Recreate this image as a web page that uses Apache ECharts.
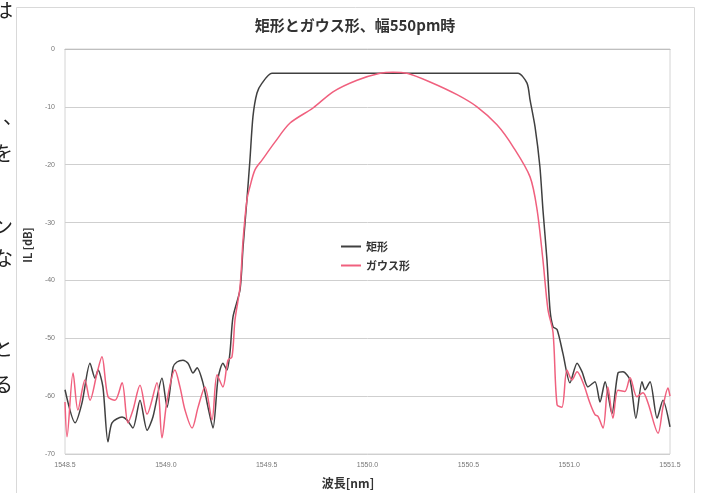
<!DOCTYPE html>
<html>
<head>
<meta charset="utf-8">
<script src="https://cdn.jsdelivr.net/npm/echarts@6/dist/echarts.min.js"></script>
<style>
html,body{margin:0;padding:0;background:#fff;}
#c{width:702px;height:493px;}
</style>
</head>
<body>
<div id="c"></div>
<script>
var titleText = '矩形とガウス形、幅550pm時';
var xName = '波長[nm]';
var yName = 'IL [dB]';
var seriesNames = ['矩形', 'ガウス形'];
var sideChars = ['は', '、', 'を', 'ン', 'な', 'と', 'る'];

var rectX = [1548.500,1548.550,1548.584,1548.624,1548.649,1548.664,1548.688,1548.713,1548.733,1548.783,1548.807,1548.837,1548.872,1548.907,1548.936,1548.981,1549.006,1549.036,1549.055,1549.085,1549.110,1549.135,1549.155,1549.184,1549.209,1549.234,1549.259,1549.283,1549.303,1549.318,1549.333,1549.368,1549.383,1549.402,1549.417,1549.432,1549.452,1549.477,1549.526,1549.800,1550.161,1550.500,1550.746,1550.791,1550.806,1550.831,1550.855,1550.870,1550.890,1550.905,1550.920,1550.940,1550.969,1551.004,1551.039,1551.064,1551.093,1551.128,1551.153,1551.178,1551.212,1551.242,1551.267,1551.302,1551.331,1551.361,1551.376,1551.401,1551.436,1551.465,1551.500];
var rectY = [-58.9,-64.6,-61.2,-54.3,-56.9,-55.5,-58.4,-67.9,-64.6,-63.6,-64.1,-65.5,-60.7,-65.9,-63.6,-56.9,-61.9,-55.0,-54.1,-53.8,-54.3,-56.0,-55.1,-57.7,-61.9,-65.5,-56.9,-54.3,-55.5,-52.5,-46.3,-41.6,-34.2,-26.1,-19.2,-11.7,-7.6,-5.9,-4.2,-4.2,-4.2,-4.2,-4.2,-5.9,-8.8,-13.5,-20.4,-27.8,-36.5,-45.1,-48.0,-48.5,-52.6,-57.7,-54.3,-55.8,-58.4,-57.5,-61.0,-57.5,-63.0,-56.0,-55.8,-57.2,-63.8,-57.5,-58.9,-57.5,-63.8,-60.7,-65.3];

var gaussX = [1548.500,1548.510,1548.540,1548.564,1548.599,1548.624,1548.659,1548.683,1548.713,1548.748,1548.783,1548.812,1548.837,1548.872,1548.907,1548.956,1548.981,1549.006,1549.045,1549.070,1549.095,1549.130,1549.160,1549.194,1549.229,1549.254,1549.283,1549.308,1549.328,1549.343,1549.368,1549.383,1549.402,1549.417,1549.442,1549.477,1549.541,1549.616,1549.730,1549.829,1549.948,1550.062,1550.126,1550.196,1550.310,1550.444,1550.543,1550.642,1550.722,1550.806,1550.841,1550.870,1550.895,1550.920,1550.940,1550.964,1550.989,1551.014,1551.039,1551.069,1551.103,1551.128,1551.143,1551.168,1551.192,1551.217,1551.242,1551.276,1551.302,1551.336,1551.366,1551.391,1551.441,1551.465,1551.490,1551.500];
var gaussY = [-61.0,-67.0,-56.0,-62.4,-57.2,-60.7,-56.0,-53.2,-60.1,-60.7,-57.7,-64.6,-62.4,-58.1,-63.1,-57.7,-67.2,-60.7,-55.5,-58.4,-62.4,-65.5,-61.9,-58.4,-64.1,-56.3,-58.4,-53.8,-53.2,-46.8,-41.1,-33.0,-26.1,-23.8,-20.9,-19.2,-16.1,-12.8,-10.2,-7.4,-5.4,-4.2,-4.0,-4.2,-5.7,-7.9,-10.0,-13.1,-16.9,-22.1,-27.8,-36.5,-45.1,-49.0,-61.5,-61.9,-55.5,-57.2,-55.8,-57.7,-61.2,-63.2,-63.5,-65.5,-58.4,-63.8,-59.0,-59.2,-56.8,-60.1,-59.4,-61.2,-66.4,-61.9,-58.6,-60.0];

function pairs(xs, ys){ var o=[]; for(var i=0;i<xs.length;i++){o.push([xs[i], ys[i]]);} return o; }

var sideX = [-7, 3, -7, -7, -7, -7, -7];
var sideY = [10, 116, 153, 226, 258, 348, 384];
var graphics = [
  {type:'rect', shape:{x:16.5,y:7.5,width:678,height:490}, style:{fill:'none', stroke:'#d9d9d9', lineWidth:1}, silent:true},
  {type:'text', x:355, y:25, style:{text:titleText, font:'bold 15px "Noto Sans CJK JP"', fill:'#333', textAlign:'center', textVerticalAlign:'middle'}},
  {type:'text', x:348, y:483, style:{text:xName, font:'bold 12px "Noto Sans CJK JP"', fill:'#333', textAlign:'center', textVerticalAlign:'middle'}},
  {type:'text', x:28, y:245, rotation:Math.PI/2, style:{text:yName, font:'bold 11px "Noto Sans CJK JP"', fill:'#333', textAlign:'center', textVerticalAlign:'middle'}}
];
for (var i=0;i<sideChars.length;i++){
  graphics.push({type:'text', x:sideX[i], y:sideY[i], style:{text:sideChars[i], font:'20px "Noto Sans CJK JP"', fill:'#222', textAlign:'left', textVerticalAlign:'middle'}});
}

var chart = echarts.init(document.getElementById('c'), null, {renderer:'canvas'});
chart.setOption({
  backgroundColor:'#fff',
  animation:false,
  grid:{left:65, right:32, top:49, bottom:39, show:true, borderColor:'#d4d4d4', borderWidth:1},
  legend:{
    orient:'vertical', left:336, top:236, itemGap:8, itemWidth:20, itemHeight:2, icon:'rect',
    textStyle:{fontSize:11, color:'#333', fontFamily:'"Noto Sans CJK JP"', fontWeight:'bold'},
    data:seriesNames
  },
  xAxis:{
    type:'value', min:1548.5, max:1551.5, interval:0.5,
    axisLine:{show:true, lineStyle:{color:'#bfbfbf'}},
    axisTick:{show:false},
    splitLine:{show:false},
    axisLabel:{fontSize:7, color:'#777', margin:8, formatter:function(v){return v.toFixed(1);}}
  },
  yAxis:{
    type:'value', min:-70, max:0, interval:10,
    axisLine:{show:false},
    axisTick:{show:false},
    splitLine:{show:true, lineStyle:{color:'#cfcfcf', width:1}},
    axisLabel:{fontSize:7, color:'#777', margin:10}
  },
  graphic:graphics,
  series:[
    {name:seriesNames[0], type:'line', data:pairs(rectX, rectY), showSymbol:false, smooth:0.25,
     lineStyle:{color:'#404040', width:1.5}, itemStyle:{color:'#404040'}},
    {name:seriesNames[1], type:'line', data:pairs(gaussX, gaussY), showSymbol:false, smooth:0.3,
     lineStyle:{color:'#f0607e', width:1.5}, itemStyle:{color:'#f0607e'}}
  ]
});
</script>
</body>
</html>
